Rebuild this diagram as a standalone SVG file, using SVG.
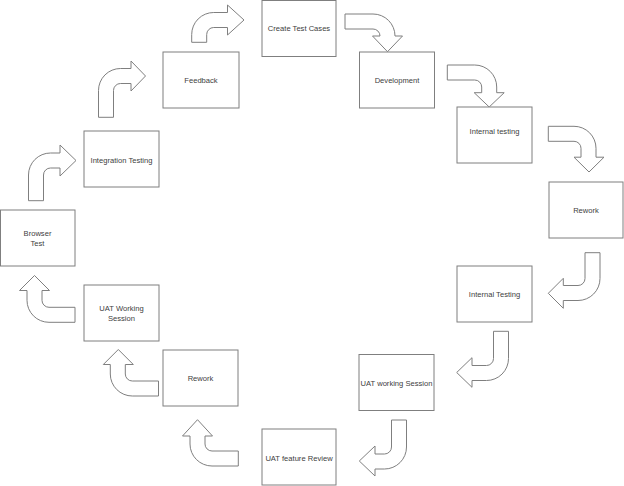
<svg xmlns="http://www.w3.org/2000/svg" width="624" height="486" viewBox="0 0 624 486">
<style>
.box{fill:#fff;stroke:#7f7f7f;stroke-width:1}
.arr{fill:#fff;stroke:#7f7f7f;stroke-width:1;stroke-linejoin:miter}
text{font-family:"Liberation Sans",Arial,sans-serif;font-size:7.6px;fill:#404040;text-anchor:middle}
</style>
<rect width="624" height="486" fill="#fff"/>
<g id="connectors">
<path class="arr" d="M28.5,200.7 V175 A22,22 0 0 1 50.5,153 H60 V145 L76,160.5 L60,176 V168 H50.5 A7,7 0 0 0 43.5,175 V200.7 Z"/>
<path class="arr" d="M98.5,117.3 V90.5 A22,22 0 0 1 120.5,68.5 H131 V61 L145.5,76 L131,91 V83.5 H120.5 A7,7 0 0 0 113.5,90.5 V117.3 Z"/>
<path class="arr" d="M191.7,42.3 V34.5 A22,22 0 0 1 213.7,12.5 H227.5 V5 L244,20 L227.5,35 V27.5 H213.7 A7,7 0 0 0 206.7,34.5 V42.3 Z"/>
<path class="arr" d="M345,14 H373 A22,22 0 0 1 395,36 H402.5 L387.5,51.7 L372.5,36 H380 A7,7 0 0 0 373,29 H345 Z"/>
<path class="arr" d="M447.3,65 H474.7 A22,22 0 0 1 496.7,87 V92.7 H504.2 L489.2,107 L474.2,92.7 H481.7 V87 A7,7 0 0 0 474.7,80 H447.3 Z"/>
<path class="arr" d="M548.3,126.3 H574 A22,22 0 0 1 596,148.3 V157.2 H604 L589,172 L574,157.2 H581 V148.3 A7,7 0 0 0 574,141.3 H548.3 Z"/>
<path class="arr" d="M585,252.7 H600 V278.5 A22,22 0 0 1 578,300.5 H563.3 V308.3 L548.3,293.3 L563.3,278.3 V285.5 H578 A7,7 0 0 0 585,278.5 Z"/>
<path class="arr" d="M493.5,331.3 H508.5 V358.5 A22,22 0 0 1 486.5,380.5 H472 V387.3 L456.7,372.5 L472,357.7 V365.5 H486.5 A7,7 0 0 0 493.5,358.5 Z"/>
<path class="arr" d="M391.5,420 H406.5 V447 A22,22 0 0 1 384.5,469 H375 V476 L359.3,461 L375,446 V454 H384.5 A7,7 0 0 0 391.5,447 Z"/>
<path class="arr" d="M238.3,451 H212 A7,7 0 0 1 205,444 V436 H212.5 L197.5,419.7 L182.5,436 H190 V444 A22,22 0 0 0 212,466 H238.3 Z"/>
<path class="arr" d="M158.5,381 H132.3 A7,7 0 0 1 125.3,374 V364.5 H133.3 L118.3,349.5 L103.3,364.5 H110.3 V374 A22,22 0 0 0 132.3,396 H158.5 Z"/>
<path class="arr" d="M75,307.3 H49 A7,7 0 0 1 42,300.3 V290.5 H49.5 L34.5,275.5 L19.5,290.5 H27 V300.3 A22,22 0 0 0 49,322.3 H75 Z"/>
</g>
<g id="create-test-cases"><rect class="box" x="262" y="0.5" width="74" height="56"/><text x="299" y="31">Create Test Cases</text></g>
<g id="development"><rect class="box" x="359.5" y="52" width="75" height="56"/><text x="397" y="83">Development</text></g>
<g id="internal-testing-1"><rect class="box" x="457" y="107" width="75" height="56"/><text x="494.5" y="134">Internal testing</text></g>
<g id="rework-1"><rect class="box" x="549" y="182" width="74" height="56"/><text x="586" y="213">Rework</text></g>
<g id="internal-testing-2"><rect class="box" x="457" y="266" width="75" height="56"/><text x="494.5" y="297">Internal Testing</text></g>
<g id="uat-working-session-1"><rect class="box" x="359" y="354.5" width="75" height="56"/><text x="396.5" y="386">UAT working Session</text></g>
<g id="uat-feature-review"><rect class="box" x="262" y="429" width="74" height="56"/><text x="299" y="461">UAT feature Review</text></g>
<g id="rework-2"><rect class="box" x="163" y="350" width="75" height="56"/><text x="200.5" y="381">Rework</text></g>
<g id="uat-working-session-2"><rect class="box" x="84" y="285" width="75" height="56"/><text x="121.5" y="311">UAT Working</text><text x="121.5" y="321">Session</text></g>
<g id="browser-test"><rect class="box" x="0.5" y="210" width="74.5" height="56"/><text x="37.5" y="236">Browser</text><text x="37.5" y="246">Test</text></g>
<g id="integration-testing"><rect class="box" x="84" y="131" width="75" height="56"/><text x="121.5" y="163">Integration Testing</text></g>
<g id="feedback"><rect class="box" x="163" y="52" width="76" height="56"/><text x="201" y="83">Feedback</text></g>
</svg>
